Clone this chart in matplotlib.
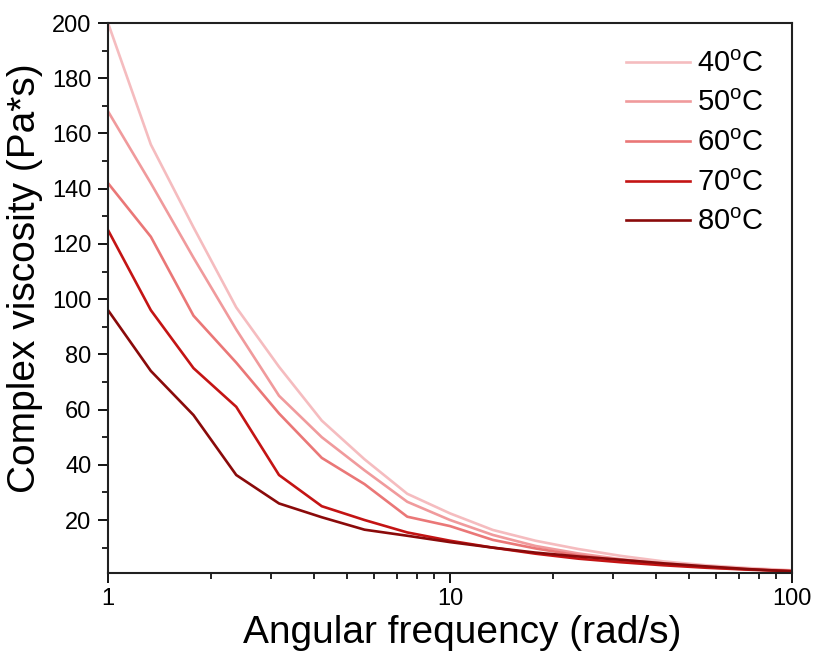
import matplotlib
matplotlib.use('Agg')
import matplotlib.pyplot as plt
import numpy as np
from matplotlib.ticker import FixedLocator, FixedFormatter, MultipleLocator, LogLocator, NullFormatter

# angular frequency, 8 points per decade from 1 to 100 rad/s
freq = [1.0, 1.334, 1.778, 2.371, 3.162, 4.217, 5.623, 7.499, 10.0,
        13.34, 17.78, 23.71, 31.62, 42.17, 56.23, 74.99, 100.0]

visc_40 = [200, 156, 126, 97, 75.5, 56, 42, 29.5, 22.4, 16.4, 12.5, 9.5, 7.0, 5.0, 3.6, 2.6, 1.8]
visc_50 = [168, 142, 115, 89, 65, 50, 38, 26.6, 20, 14.6, 10.6, 7.9, 5.8, 4.3, 3.1, 2.2, 1.6]
visc_60 = [142, 122.6, 94, 77, 58.6, 42.5, 33, 21.2, 17.8, 12.8, 9.7, 7.2, 5.3, 4.0, 2.9, 2.1, 1.5]
visc_70 = [125, 96, 75, 61, 36.3, 25, 20, 15.5, 12.5, 10, 7.8, 6.0, 4.7, 3.6, 2.7, 2.0, 1.5]
visc_80 = [96, 74, 58, 36.3, 26, 21, 16.5, 14.3, 12, 10, 8.2, 6.8, 5.6, 4.3, 3.2, 2.2, 1.4]

labels = ['40$^{\\mathregular{o}}$C', '50$^{\\mathregular{o}}$C', '60$^{\\mathregular{o}}$C',
          '70$^{\\mathregular{o}}$C', '80$^{\\mathregular{o}}$C']
colors = ['#f5bcbf', '#f09a9c', '#ea7777', '#c41414', '#8a0a0a']

plt.rcParams['font.family'] = ['Liberation Sans', 'DejaVu Sans']
plt.rcParams['mathtext.fontset'] = 'custom'
plt.rcParams['mathtext.rm'] = 'Liberation Sans'

fig = plt.figure(figsize=(8.14, 6.65), dpi=100)
ax = fig.add_axes([0.1327, 0.1383, 0.8403, 0.8271])

for vals, lab, col in zip([visc_40, visc_50, visc_60, visc_70, visc_80], labels, colors):
    ax.plot(freq, vals, color=col, lw=1.9, label=lab)

ax.set_xscale('log')
ax.set_xlim(1, 100)
ax.set_ylim(0.8, 200)

ax.xaxis.set_major_locator(FixedLocator([1, 10, 100]))
ax.xaxis.set_major_formatter(FixedFormatter(['1', '10', '100']))
ax.xaxis.set_minor_locator(LogLocator(base=10, subs=np.arange(2, 10)))
ax.xaxis.set_minor_formatter(NullFormatter())
ax.yaxis.set_major_locator(FixedLocator(list(range(20, 201, 20))))
ax.yaxis.set_minor_locator(MultipleLocator(10))

ax.tick_params(which='major', direction='out', length=7, width=1.3, labelsize=17, pad=5)
ax.tick_params(axis='x', which='major', pad=4)
ax.tick_params(which='minor', direction='out', length=4, width=1.2)
for sp in ax.spines.values():
    sp.set_linewidth(1.5)
    sp.set_color('#202020')

ax.set_xlabel('Angular frequency (rad/s)', fontsize=28)
ax.set_ylabel('Complex viscosity (Pa*s)', fontsize=28)
ax.xaxis.set_label_coords(0.518, -0.077)
ax.yaxis.set_label_coords(-0.095, 0.536)

ax.legend(loc='upper right', frameon=False, fontsize=21, handlelength=2.2,
          handletextpad=0.25, labelspacing=0.4, borderaxespad=0.5,
          bbox_to_anchor=(0.997, 0.999))

fig.savefig('out.png', dpi=100)
